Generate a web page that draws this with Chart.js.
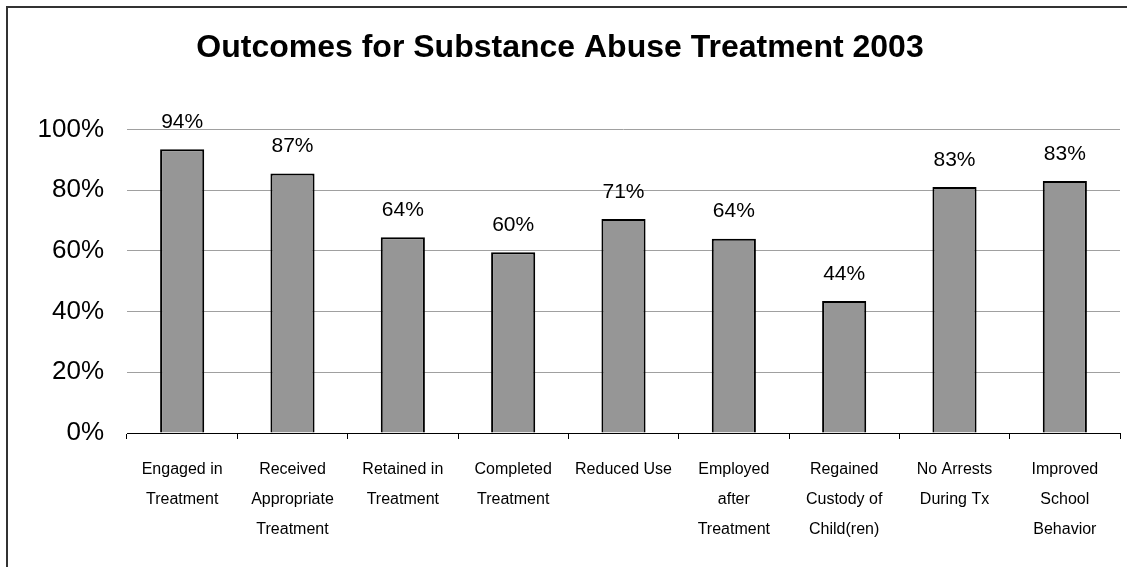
<!DOCTYPE html>
<html>
<head>
<meta charset="utf-8">
<title>Outcomes for Substance Abuse Treatment 2003</title>
<script src="https://cdn.jsdelivr.net/npm/chart.js@4/dist/chart.umd.min.js"></script>
<style>
  body { margin: 0; background: #fff; overflow: hidden; }
  #wrap { position: relative; width: 1127px; height: 567px; }
  #frame { position: absolute; left: 6px; top: 6px; width: 1200px; height: 600px;
           border-left: 2px solid #333; border-top: 2px solid #333; pointer-events: none; }
</style>
</head>
<body>
<div id="wrap">
  <canvas id="barChart" width="1127" height="567"></canvas>
  <div id="frame"></div>
</div>
<script>
// categories (x axis), shown on several lines
const categories = [
  ['Engaged in', 'Treatment'],
  ['Received', 'Appropriate', 'Treatment'],
  ['Retained in', 'Treatment'],
  ['Completed', 'Treatment'],
  ['Reduced Use'],
  ['Employed', 'after', 'Treatment'],
  ['Regained', 'Custody of', 'Child(ren)'],
  ['No Arrests', 'During Tx'],
  ['Improved', 'School', 'Behavior']
];

// bar heights as drawn in the picture (percent)
const barValues = [93.5, 85.5, 64.5, 59.5, 70.5, 64, 43.5, 81, 83];

// value labels printed above the bars
const valueLabels = ['94%', '87%', '64%', '60%', '71%', '64%', '44%', '83%', '83%'];

// y axis ticks
const yTicks = [0, 20, 40, 60, 80, 100];

const fontFamily = '"Liberation Sans", Arial, sans-serif';

// draws the percentage text above each bar
const barLabels = {
  id: 'barLabels',
  afterDatasetsDraw(chart) {
    const ctx = chart.ctx;
    const meta = chart.getDatasetMeta(0);
    ctx.save();
    ctx.font = '21px ' + fontFamily;
    ctx.fillStyle = '#000';
    ctx.textAlign = 'center';
    ctx.textBaseline = 'middle';
    meta.data.forEach((bar, i) => {
      ctx.fillText(valueLabels[i], bar.x, bar.y - 27);
    });
    ctx.restore();
  }
};

const ctx = document.getElementById('barChart').getContext('2d');
new Chart(ctx, {
  type: 'bar',
  data: {
    labels: categories,
    datasets: [{
      data: barValues,
      backgroundColor: '#969696',
      borderColor: '#000',
      borderWidth: 2,
      barPercentage: 0.4,
      categoryPercentage: 1.0
    }]
  },
  options: {
    responsive: false,
    animation: false,
    devicePixelRatio: 1,
    layout: { padding: { left: 0, right: 7, top: 0, bottom: 0 } },
    plugins: {
      legend: { display: false },
      tooltip: { enabled: false },
      title: {
        display: true,
        text: 'Outcomes for Substance Abuse Treatment 2003',
        color: '#000',
        font: { family: fontFamily, size: 32, weight: 'bold', lineHeight: 1.2 },
        padding: { top: 29, bottom: 62 }
      }
    },
    scales: {
      x: {
        offset: true,
        grid: {
          offset: true,
          drawOnChartArea: false,
          color: '#000',
          tickLength: 6
        },
        border: { color: '#000', width: 1 },
        ticks: {
          color: '#000',
          maxRotation: 0,
          autoSkip: false,
          padding: 16,
          font: { family: fontFamily, size: 16, lineHeight: '30px' }
        },
        afterFit(scale) { scale.height = 134; }
      },
      y: {
        min: 0,
        max: 100,
        afterBuildTicks(scale) { scale.ticks = yTicks.map(v => ({ value: v })); },
        grid: { color: '#a0a0a0', lineWidth: 1, tickLength: 0 },
        border: { display: false },
        ticks: {
          color: '#000',
          padding: 23,
          font: { family: fontFamily, size: 26 },
          callback: v => v + '%'
        },
        afterFit(scale) { scale.width = 127; }
      }
    }
  },
  plugins: [barLabels]
});
</script>
</body>
</html>
